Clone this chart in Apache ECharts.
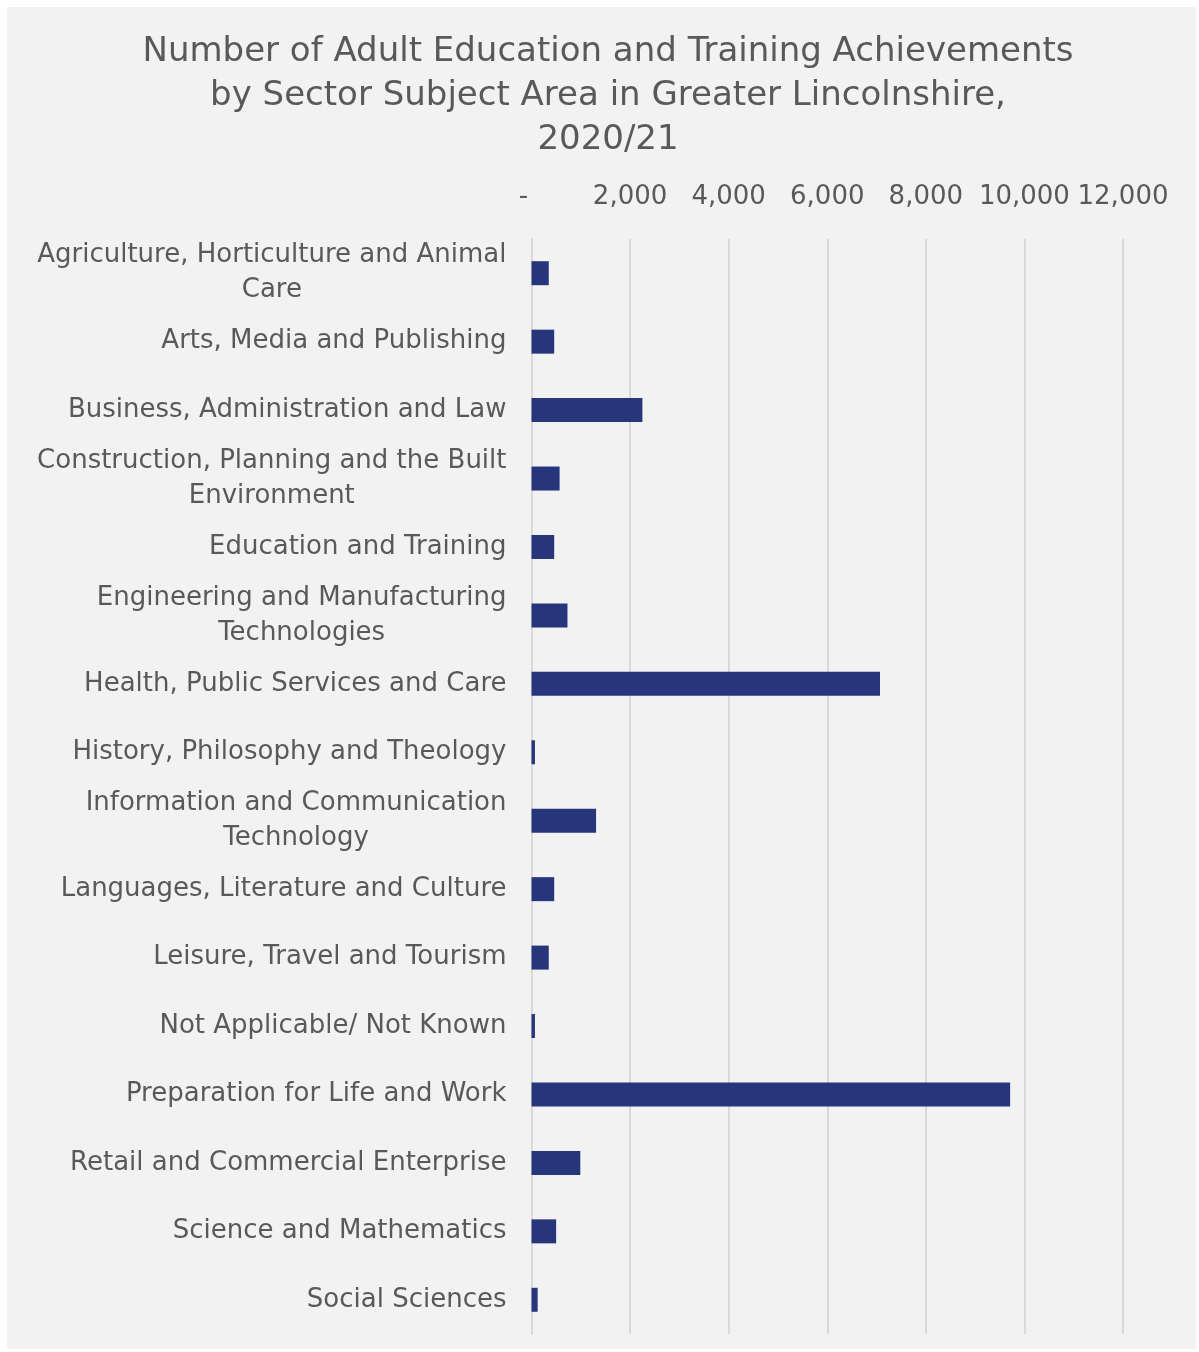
<!DOCTYPE html>
<html>
<head>
<meta charset="utf-8">
<script src="https://cdn.jsdelivr.net/npm/echarts@6/dist/echarts.min.js"></script>
<style>
  html, body { margin: 0; padding: 0; background: #ffffff; }
  #chart { position: absolute; left: 7px; top: 7px; width: 1189px; height: 1342px; background: #F2F2F2; }
</style>
</head>
<body>
<div id="chart"></div>
<script>
// Sector subject areas (line breaks where the labels wrap)
const categories = [
  'Agriculture, Horticulture and Animal\nCare',
  'Arts, Media and Publishing',
  'Business, Administration and Law',
  'Construction, Planning and the Built\nEnvironment',
  'Education and Training',
  'Engineering and Manufacturing\nTechnologies',
  'Health, Public Services and Care',
  'History, Philosophy and Theology',
  'Information and Communication\nTechnology',
  'Languages, Literature and Culture',
  'Leisure, Travel and Tourism',
  'Not Applicable/ Not Known',
  'Preparation for Life and Work',
  'Retail and Commercial Enterprise',
  'Science and Mathematics',
  'Social Sciences'
];

// Achievements, 2020/21
const achievements = [350, 460, 2250, 570, 460, 730, 7070, 70, 1310, 460, 350, 70, 9710, 990, 500, 125];

// Value axis ticks
const tickMin = 0;
const tickMax = 12000;
const tickStep = 2000;

const titleText = 'Number of Adult Education and Training Achievements\nby Sector Subject Area in Greater Lincolnshire,\n2020/21';

const FONT = 'DejaVu Sans';
const TEXT = '#595959';
const GRIDLINE = '#D9D9D9';

const chart = echarts.init(document.getElementById('chart'), null, { renderer: 'canvas' });

chart.setOption({
  backgroundColor: '#F2F2F2',
  animation: false,
  title: {
    text: titleText,
    left: 596,
    top: 18,
    textAlign: 'center',
    textStyle: {
      fontFamily: FONT,
      fontSize: 34,
      fontWeight: 'normal',
      lineHeight: 44,
      color: TEXT
    }
  },
  grid: {
    left: 524.5,
    right: 73,
    top: 232,
    bottom: 15,
    containLabel: false
  },
  xAxis: {
    type: 'value',
    position: 'top',
    min: tickMin,
    max: tickMax,
    interval: tickStep,
    axisLine: { show: false },
    axisTick: { show: false },
    splitLine: { show: true, lineStyle: { color: GRIDLINE, width: 2 } },
    axisLabel: {
      margin: 29,
      fontFamily: FONT,
      fontSize: 26,
      color: TEXT,
      formatter: v => v === 0 ? '{z|-}' : v.toLocaleString('en-US'),
      rich: {
        z: { fontFamily: FONT, fontSize: 26, color: TEXT, padding: [0, 16, 0, 0] }
      }
    }
  },
  yAxis: {
    type: 'category',
    data: categories,
    inverse: true,
    axisLine: { show: true, lineStyle: { color: GRIDLINE, width: 2 } },
    axisTick: { show: false },
    splitLine: { show: false },
    axisLabel: {
      margin: 25,
      interval: 0,
      fontFamily: FONT,
      fontSize: 26,
      lineHeight: 35,
      color: TEXT,
      formatter: v => v.split('\n').map(l => '{c|' + l + '}').join('\n'),
      rich: {
        c: { fontFamily: FONT, fontSize: 26, lineHeight: 35, color: TEXT, align: 'center' }
      }
    }
  },
  series: [{
    type: 'bar',
    data: achievements,
    barWidth: 24,
    itemStyle: { color: '#27357A' }
  }]
});
</script>
</body>
</html>
